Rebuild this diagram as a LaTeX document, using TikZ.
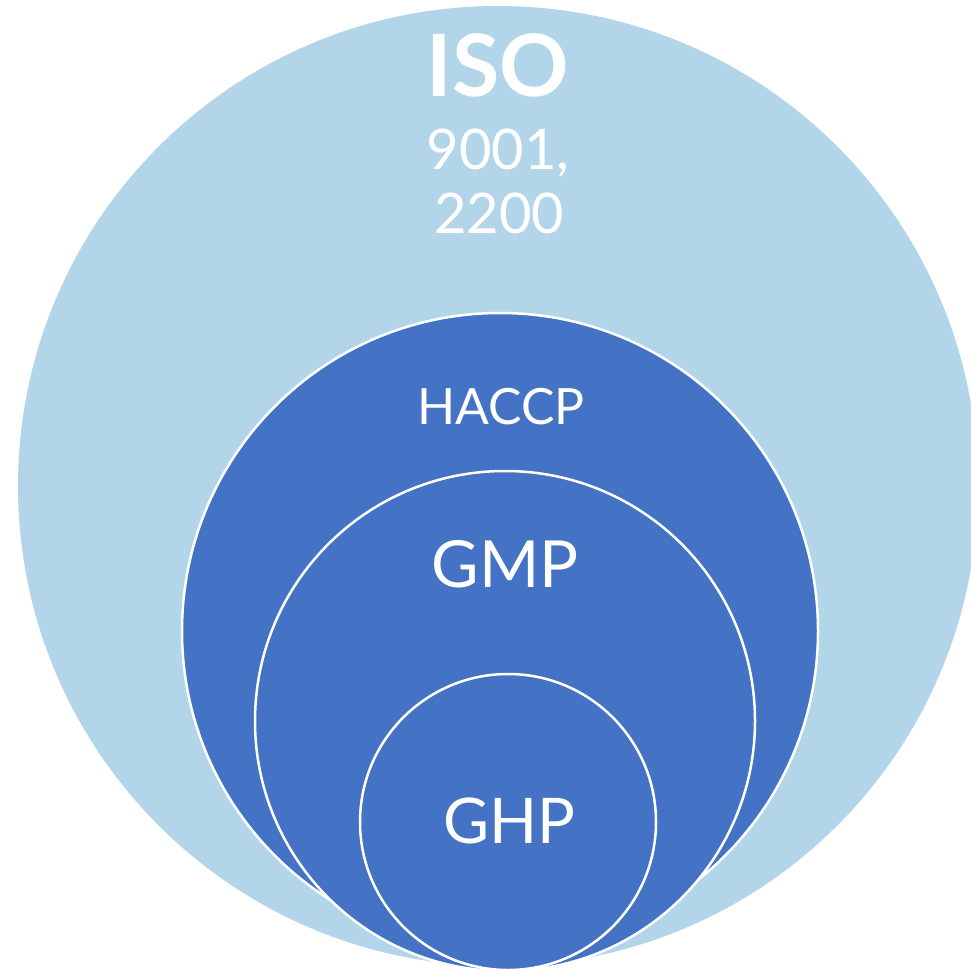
\documentclass[tikz,border=0pt]{standalone}
\usepackage{fontspec}
\setmainfont{Lato}
\definecolor{lightring}{HTML}{B3D5EA}
\definecolor{darkring}{HTML}{4472C4}
\begin{document}
\begin{tikzpicture}[x=1pt,y=-1pt,
  ring/.style={fill=darkring,draw=white,line width=2.5pt},
  lbl/.style={text=white,anchor=base,inner sep=0pt}]
\useasboundingbox (0,0) rectangle (971,971);
\clip (0,0) rectangle (971,971);
\fill[lightring] (498,486) circle[radius=480];
\draw[ring] (500,631) circle[radius=318];
\draw[ring] (505,721) circle[radius=250];
\draw[ring] (508,822) circle[radius=148];
\node[lbl,font=\fontsize{86}{86}\selectfont\bfseries] (iso) at (498,97) {ISO};
\node[lbl,font=\fontsize{56}{56}\selectfont] (n1) at (498,169) {9001,};
\node[lbl,font=\fontsize{56}{56}\selectfont] (n2) at (499,233) {2200};
\node[lbl,font=\fontsize{50}{50}\selectfont] (haccp) at (501,424) {HACCP};
\node[lbl,font=\fontsize{65}{65}\selectfont] (gmp) at (505,587) {GMP};
\node[lbl,font=\fontsize{63}{63}\selectfont] (ghp) at (509,843) {GHP};
\end{tikzpicture}
\end{document}
